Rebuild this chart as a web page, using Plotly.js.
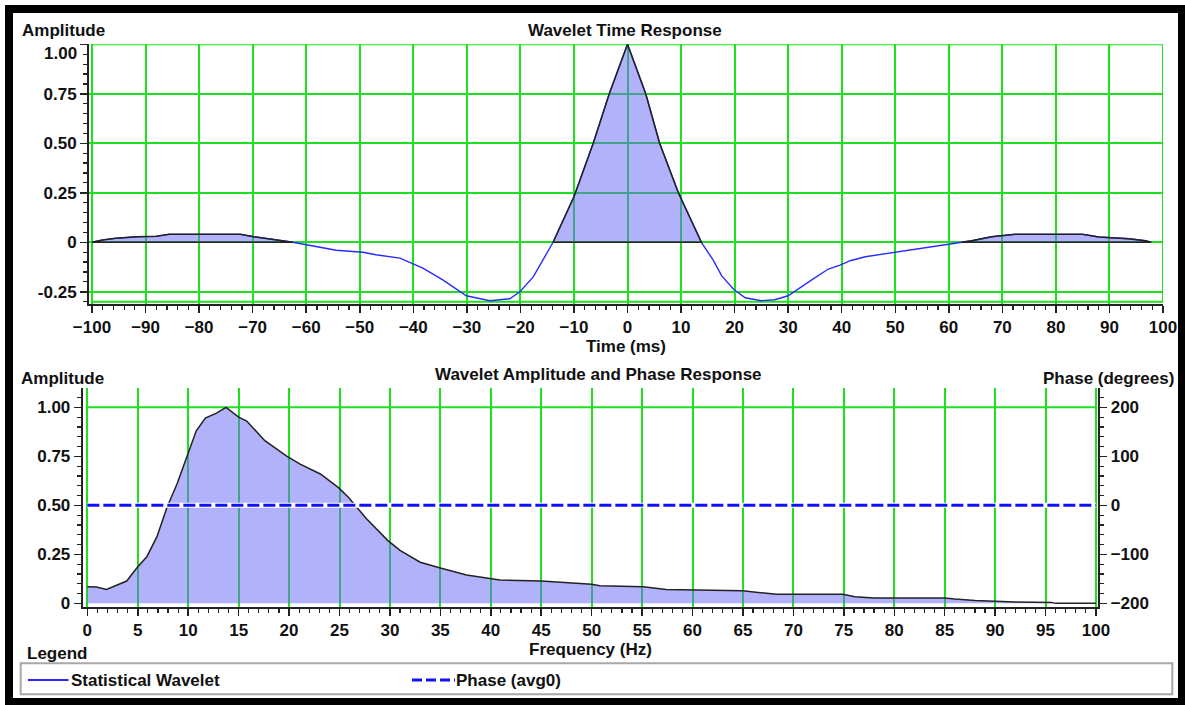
<!DOCTYPE html>
<html>
<head>
<meta charset="utf-8">
<script src="https://cdn.plot.ly/plotly-3.0.1.min.js"></script>
<style>
  html, body { margin: 0; padding: 0; background: #ffffff; }
  #chart { width: 1185px; height: 705px; }
</style>
</head>
<body>
<div id="chart"></div>
<script>
// Statistical wavelet: time response (ms vs normalised amplitude)
const timeMs = [-100, -98, -95.6, -91.6, -88, -85.6, -80, -75, -72.3, -69.8, -67.5, -65.6, -62.5,
  -59.7, -56.9, -54.4, -49.4, -47, -42.5, -38.2, -34.5, -30.1, -25.7, -22, -20.1, -17.6, -13.9,
  -10, -6.4, -3.4, 0, 3.4, 6.0, 9.5, 13.8, 16, 17.6, 19.9, 22, 25, 27.5, 30, 34.4, 37.5, 39.7,
  41.6, 44.4, 50, 55.6, 59.9, 62.4, 64.3, 68, 72.4, 80, 85, 88, 93.6, 96.7, 97.8];
const timeAmp = [0, 0.012, 0.02, 0.028, 0.03, 0.04, 0.04, 0.04, 0.04, 0.028, 0.02, 0.012, 0,
  -0.014, -0.026, -0.04, -0.05, -0.063, -0.08, -0.13, -0.19, -0.27, -0.295, -0.285, -0.25, -0.175, 0,
  0.23, 0.5, 0.75, 1.0, 0.75, 0.5, 0.25, 0, -0.09, -0.17, -0.24, -0.28, -0.295, -0.29, -0.27, -0.19, -0.135, -0.115,
  -0.093, -0.073, -0.05, -0.03, -0.01, 0, 0.008, 0.028, 0.04, 0.04, 0.04, 0.027, 0.018, 0.008, 0];

// Amplitude spectrum (Hz vs normalised amplitude)
const freqHz = [0, 0.9, 1.9, 2.9, 3.9, 5.0, 5.9, 6.9, 7.9, 8.9, 10.0, 10.8, 11.7, 12.8, 13.75, 15.0,
  15.8, 17.6, 19.8, 21.1, 23.1, 24.9, 25.9, 27.7, 29.8, 31.0, 33.0, 35.0, 37.6, 40.1, 40.9, 45.0,
  48.8, 50.0, 50.8, 55.1, 57.4, 60.0, 65.0, 66.5, 68.3, 70.0, 74.9, 76.1, 78.0, 85.0, 86.0, 88.0,
  92.0, 95.6, 96.0, 100];
const specAmp = [0.085, 0.083, 0.071, 0.093, 0.114, 0.187, 0.238, 0.34, 0.49, 0.61, 0.77, 0.88, 0.945,
  0.97, 1.0, 0.95, 0.93, 0.83, 0.75, 0.71, 0.66, 0.59, 0.54, 0.43, 0.32, 0.27, 0.21, 0.18, 0.145,
  0.124, 0.119, 0.114, 0.102, 0.098, 0.09, 0.085, 0.071, 0.068, 0.064, 0.056, 0.046, 0.046, 0.046,
  0.034, 0.028, 0.028, 0.022, 0.015, 0.007, 0.005, 0, 0];

// Phase (average 0 degrees)
const phaseFreqHz = [0, 100];
const phaseDeg = [0, 0];

// Tick labels; the top label of the time panel is drawn just below its tick
const timeTicks = [-0.25, 0, 0.25, 0.5, 0.75, 1.0];
const timeTickText = ['-0.25', '0', '0.25', '0.50', '0.75', ''];
const timeTopLabel = '1.00';
const specTicks = [0, 0.25, 0.5, 0.75, 1.0];
const specTickText = ['0', '0.25', '0.50', '0.75', '1.00'];

const W = 1185, H = 705;
const px = v => v / W;          // horizontal pixel -> paper fraction
const py = v => 1 - v / H;      // vertical pixel -> paper fraction

const FONT = 'Liberation Sans, Arial, Helvetica, sans-serif';
const GREEN = '#1ee01e';
const AXIS = '#222222';
const BLUE = '#2a2aff';
const FILL = 'rgba(101,101,245,0.5)';
const OUTLINE = '#222222';
const tickFont = {family: FONT, size: 17, color: '#111', weight: 'bold'};

// Split the time response into its positive lobes (filled, outlined in black)
function positiveLobes(xs, ys) {
  const lobes = [];
  let cur = null;
  for (let i = 0; i < xs.length; i++) {
    if (ys[i] >= 0) {
      if (!cur) cur = {x: [], y: []};
      cur.x.push(xs[i]); cur.y.push(ys[i]);
    } else if (cur) {
      lobes.push(cur); cur = null;
    }
  }
  if (cur) lobes.push(cur);
  return lobes.filter(l => l.y.some(v => v > 0));
}

const traces = [];

traces.push({
  name: 'Statistical Wavelet', x: timeMs, y: timeAmp, xaxis: 'x', yaxis: 'y',
  type: 'scatter', mode: 'lines', line: {color: BLUE, width: 1.4}, hoverinfo: 'x+y'
});

positiveLobes(timeMs, timeAmp).forEach(l => {
  traces.push({
    x: l.x.concat([l.x[0]]), y: l.y.concat([l.y[0]]), xaxis: 'x', yaxis: 'y',
    type: 'scatter', mode: 'lines', fill: 'toself', fillcolor: FILL,
    line: {color: OUTLINE, width: 1.5}, hoverinfo: 'skip'
  });
});

traces.push({
  name: 'Statistical Wavelet', x: freqHz, y: specAmp, xaxis: 'x2', yaxis: 'y2',
  type: 'scatter', mode: 'lines', fill: 'tozeroy', fillcolor: FILL,
  line: {color: OUTLINE, width: 1.5}
});

// white halo under the dashed phase line
traces.push({
  x: phaseFreqHz, y: phaseDeg, xaxis: 'x2', yaxis: 'y3',
  type: 'scatter', mode: 'lines', line: {color: '#ffffff', width: 5}, hoverinfo: 'skip'
});
traces.push({
  name: 'Phase (avg0)', x: phaseFreqHz, y: phaseDeg, xaxis: 'x2', yaxis: 'y3',
  type: 'scatter', mode: 'lines', line: {color: '#1010ff', width: 3, dash: '12px,4px'}
});

const commonAxis = {
  showline: true, linecolor: AXIS, linewidth: 2, ticks: 'outside', ticklen: 7, tickwidth: 1.5,
  tickcolor: AXIS, tickfont: tickFont, zeroline: false, fixedrange: true
};

function ann(text, x, y, xanchor, extra) {
  return Object.assign({
    text: text, xref: 'paper', yref: 'paper', x: px(x), y: py(y), xanchor: xanchor, yanchor: 'middle',
    showarrow: false, font: {family: FONT, size: 17, color: '#111', weight: 'bold'}, borderpad: 0
  }, extra || {});
}

const layout = {
  width: W, height: H,
  margin: {l: 0, r: 0, t: 0, b: 0},
  paper_bgcolor: '#ffffff', plot_bgcolor: 'rgba(0,0,0,0)',
  showlegend: false,
  font: {family: FONT},
  xaxis: Object.assign({}, commonAxis, {
    domain: [px(89), px(1163)], anchor: 'y', range: [-100.56, 100],
    tick0: -100, dtick: 10, showgrid: true, gridcolor: GREEN, gridwidth: 2,
    minor: {dtick: 2, tick0: -100, ticks: 'outside', ticklen: 4, tickcolor: AXIS, tickwidth: 1.2, showgrid: false},
    title: {text: 'Time (ms)', font: {family: FONT, size: 17, color: '#111', weight: 'bold'}, standoff: 0}
  }),
  yaxis: Object.assign({}, commonAxis, {
    domain: [py(304), py(44.3)], anchor: 'x', range: [-0.3117, 1.0],
    tickmode: 'array', tickvals: timeTicks, ticktext: timeTickText,
    showgrid: true, gridcolor: GREEN, gridwidth: 2,
    minor: {dtick: 0.05, tick0: 0, ticks: 'outside', ticklen: 4, tickcolor: AXIS, tickwidth: 1.2, showgrid: false}
  }),
  xaxis2: Object.assign({}, commonAxis, {
    domain: [px(82.7), px(1098.3)], anchor: 'y2', range: [-0.46, 100.23],
    tick0: 0, dtick: 5, showgrid: true, gridcolor: GREEN, gridwidth: 2,
    minor: {dtick: 1, tick0: 0, ticks: 'outside', ticklen: 4, tickcolor: AXIS, tickwidth: 1.2, showgrid: false},
    title: {text: 'Frequency (Hz)', font: {family: FONT, size: 17, color: '#111', weight: 'bold'}, standoff: 2}
  }),
  yaxis2: Object.assign({}, commonAxis, {
    domain: [py(606.7), py(388)], anchor: 'x2', range: [-0.017, 1.0985],
    tickmode: 'array', tickvals: specTicks, ticktext: specTickText, showgrid: false,
    minor: {dtick: 0.05, tick0: 0, ticks: 'outside', ticklen: 4, tickcolor: AXIS, tickwidth: 1.2, showgrid: false}
  }),
  yaxis3: Object.assign({}, commonAxis, {
    overlaying: 'y2', anchor: 'x2', side: 'right', range: [-206.8, 239.4],
    tick0: -200, dtick: 100, showgrid: false,
    minor: {dtick: 20, tick0: 0, ticks: 'outside', ticklen: 4, tickcolor: AXIS, tickwidth: 1.2, showgrid: false}
  }),
  shapes: [
    // page frame
    {type: 'rect', xref: 'paper', yref: 'paper', x0: px(5), x1: 1, y0: 0, y1: py(5),
      fillcolor: '#000000', line: {width: 0}, layer: 'below'},
    {type: 'rect', xref: 'paper', yref: 'paper', x0: px(13), x1: px(1178), y0: py(698), y1: py(13),
      fillcolor: '#ffffff', line: {width: 0}, layer: 'below'},
    // green border of the time-response panel
    {type: 'rect', xref: 'x', yref: 'y', x0: -100, x1: 100, y0: -0.30, y1: 1.0,
      line: {color: GREEN, width: 2}, layer: 'below'},
    // reference line at full amplitude in the spectrum panel
    {type: 'line', xref: 'x2', yref: 'y2', x0: 0, x1: 100, y0: 1.0, y1: 1.0,
      line: {color: GREEN, width: 2}, layer: 'below'},
    // legend box and keys
    {type: 'rect', xref: 'paper', yref: 'paper', x0: px(20.7), x1: px(1172.3), y0: py(694.3), y1: py(663.3),
      line: {color: '#a8a8a8', width: 2}},
    {type: 'line', xref: 'paper', yref: 'paper', x0: px(28), x1: px(68.5), y0: py(680), y1: py(680),
      line: {color: BLUE, width: 1.8}},
    {type: 'line', xref: 'paper', yref: 'paper', x0: px(412), x1: px(455), y0: py(680), y1: py(680),
      line: {color: '#1010ff', width: 3, dash: '10px,4px'}}
  ],
  annotations: [
    ann('Amplitude', 20.5, 31, 'left'),
    ann('Wavelet Time Response', 625, 31, 'center'),
    ann(timeTopLabel, 78, 53, 'right'),
    ann('Amplitude', 20, 378.5, 'left'),
    ann('Wavelet Amplitude and Phase Response', 598.3, 374, 'center'),
    ann('Phase (degrees)', 1175, 378.5, 'right'),
    ann('Legend', 26, 653, 'left'),
    ann('Statistical Wavelet', 70, 680, 'left'),
    ann('Phase (avg0)', 455, 680, 'left')
  ]
};

Plotly.newPlot('chart', traces, layout, {staticPlot: true, displayModeBar: false});
</script>
</body>
</html>
